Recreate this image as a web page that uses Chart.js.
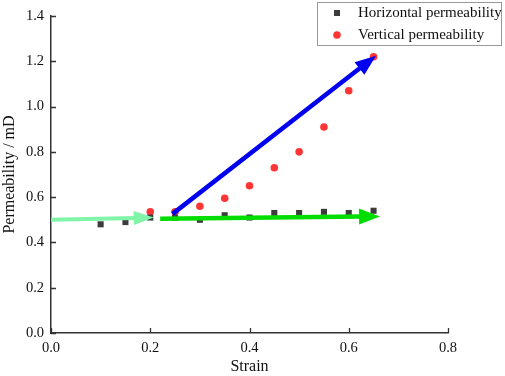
<!DOCTYPE html>
<html>
<head>
<meta charset="utf-8">
<script src="https://cdn.jsdelivr.net/npm/chart.js@4"></script>
<style>
  html, body { margin: 0; padding: 0; background: #fff; }
  #wrap { width: 505px; height: 376px; }
</style>
</head>
<body>
<div id="wrap"><canvas id="permChart"></canvas></div>
<script>
const strainH = [0.1, 0.15, 0.2, 0.25, 0.3, 0.35, 0.4, 0.45, 0.5, 0.55, 0.6, 0.65];
const horizontalPerm = [0.48, 0.49, 0.51, 0.51, 0.5, 0.52, 0.51, 0.53, 0.53, 0.535, 0.53, 0.54];
const strainV = [0.2, 0.25, 0.3, 0.35, 0.4, 0.45, 0.5, 0.55, 0.6, 0.65];
const verticalPerm = [0.535, 0.535, 0.56, 0.595, 0.65, 0.73, 0.8, 0.91, 1.07, 1.22];

// arrows: [x0, y0, x1, y1] in data units
const arrowLight = [0.0, 0.5, 0.207, 0.51];
const arrowGreen = [0.22, 0.505, 0.663, 0.515];
const arrowBlue = [0.245, 0.526, 0.655, 1.225];

const xTicks = [0, 0.2, 0.4, 0.6, 0.8];
const yTicks = [0, 0.2, 0.4, 0.6, 0.8, 1.0, 1.2, 1.4];

const serif = "'Liberation Serif', 'Times New Roman', serif";

function drawArrow(ctx, chart, a, color, width, headLen, headHalf) {
  const xs = chart.scales.x, ys = chart.scales.y;
  const x0 = xs.getPixelForValue(a[0]), y0 = ys.getPixelForValue(a[1]);
  const x1 = xs.getPixelForValue(a[2]), y1 = ys.getPixelForValue(a[3]);
  const ang = Math.atan2(y1 - y0, x1 - x0);
  const bx = x1 - Math.cos(ang) * headLen, by = y1 - Math.sin(ang) * headLen;
  ctx.save();
  ctx.strokeStyle = color;
  ctx.fillStyle = color;
  ctx.lineWidth = width;
  ctx.beginPath();
  ctx.moveTo(x0, y0);
  ctx.lineTo(bx + Math.cos(ang) * 2, by + Math.sin(ang) * 2);
  ctx.stroke();
  ctx.beginPath();
  ctx.moveTo(x1, y1);
  ctx.lineTo(bx - Math.sin(ang) * headHalf, by + Math.cos(ang) * headHalf);
  ctx.lineTo(bx + Math.sin(ang) * headHalf, by - Math.cos(ang) * headHalf);
  ctx.closePath();
  ctx.fill();
  ctx.restore();
}

const extras = {
  id: "extras",
  afterDatasetsDraw(chart) {
    const ctx = chart.ctx;
    drawArrow(ctx, chart, arrowLight, "#80f5a8", 4, 20, 7);
    drawArrow(ctx, chart, arrowGreen, "#00dd00", 4.5, 21, 8);
    drawArrow(ctx, chart, arrowBlue, "#0000f0", 4.5, 21, 8);
  },
  afterDraw(chart) {
    const ctx = chart.ctx;
    const xs = chart.scales.x, ys = chart.scales.y;
    const area = chart.chartArea;
    ctx.save();
    ctx.strokeStyle = "#333";
    ctx.lineWidth = 1.3;
    ctx.beginPath();
    xTicks.forEach((v) => {
      const px = Math.round(xs.getPixelForValue(v)) + 0.5;
      ctx.moveTo(px, area.bottom);
      ctx.lineTo(px, area.bottom - 5);
    });
    yTicks.forEach((v) => {
      const py = Math.round(ys.getPixelForValue(v)) + 0.5;
      ctx.moveTo(area.left, py);
      ctx.lineTo(area.left + 5, py);
    });
    ctx.stroke();

    // legend box
    ctx.strokeStyle = "#9a9a9a";
    ctx.lineWidth = 1;
    ctx.strokeRect(317.5, 2.5, 184, 43);
    ctx.fillStyle = "#3c3c3c";
    ctx.fillRect(334, 10, 6, 6);
    ctx.fillStyle = "#ff3535";
    ctx.beginPath();
    ctx.arc(337, 35, 3.8, 0, Math.PI * 2);
    ctx.fill();
    ctx.fillStyle = "#111";
    ctx.font = "15px " + serif;
    ctx.textBaseline = "middle";
    ctx.fillText(chart.data.datasets[0].label, 358, 13.5);
    ctx.fillText(chart.data.datasets[1].label, 358, 35.5);
    ctx.restore();
  },
};

new Chart(document.getElementById("permChart"), {
  type: "scatter",
  data: {
    datasets: [
      {
        label: "Horizontal permeability",
        data: strainH.map((x, i) => ({ x, y: horizontalPerm[i] })),
        pointStyle: "rect",
        pointRadius: 4.3,
        pointBorderWidth: 0,
        backgroundColor: "#3c3c3c",
        borderColor: "#3c3c3c",
      },
      {
        label: "Vertical permeability",
        data: strainV.map((x, i) => ({ x, y: verticalPerm[i] })),
        pointStyle: "circle",
        pointRadius: 3.8,
        pointBorderWidth: 0,
        backgroundColor: "#ff3535",
        borderColor: "#ff3535",
      },
    ],
  },
  options: {
    responsive: true,
    maintainAspectRatio: false,
    animation: false,
    layout: { padding: { top: 16, right: 57, left: 0, bottom: 0 } },
    scales: {
      x: {
        type: "linear",
        min: 0,
        max: 0.8,
        afterFit: (s) => { s.height = 43; },
        afterBuildTicks: (s) => { s.ticks = xTicks.map((v) => ({ value: v })); },
        grid: { display: false, drawTicks: false },
        border: { display: true, color: "#333", width: 1.5 },
        ticks: {
          padding: 6,
          color: "#111",
          font: { family: serif, size: 14.5 },
          callback: (v) => Number(v).toFixed(1),
        },
        title: {
          display: true,
          text: "Strain",
          color: "#111",
          font: { family: serif, size: 16 },
          padding: { top: 0, bottom: 0 },
        },
      },
      y: {
        min: 0,
        max: 1.4,
        afterFit: (s) => { s.width = 51; },
        afterBuildTicks: (s) => { s.ticks = yTicks.map((v) => ({ value: v })); },
        grid: { display: false, drawTicks: false },
        border: { display: true, color: "#333", width: 1.5 },
        ticks: {
          padding: 7,
          color: "#111",
          font: { family: serif, size: 14.5 },
          callback: (v) => Number(v).toFixed(1),
        },
        title: {
          display: true,
          text: "Permeability / mD",
          color: "#111",
          font: { family: serif, size: 16 },
          padding: { top: 0, bottom: 0 },
        },
      },
    },
    plugins: {
      legend: { display: false },
      tooltip: { enabled: false },
    },
  },
  plugins: [extras],
});
</script>
</body>
</html>
